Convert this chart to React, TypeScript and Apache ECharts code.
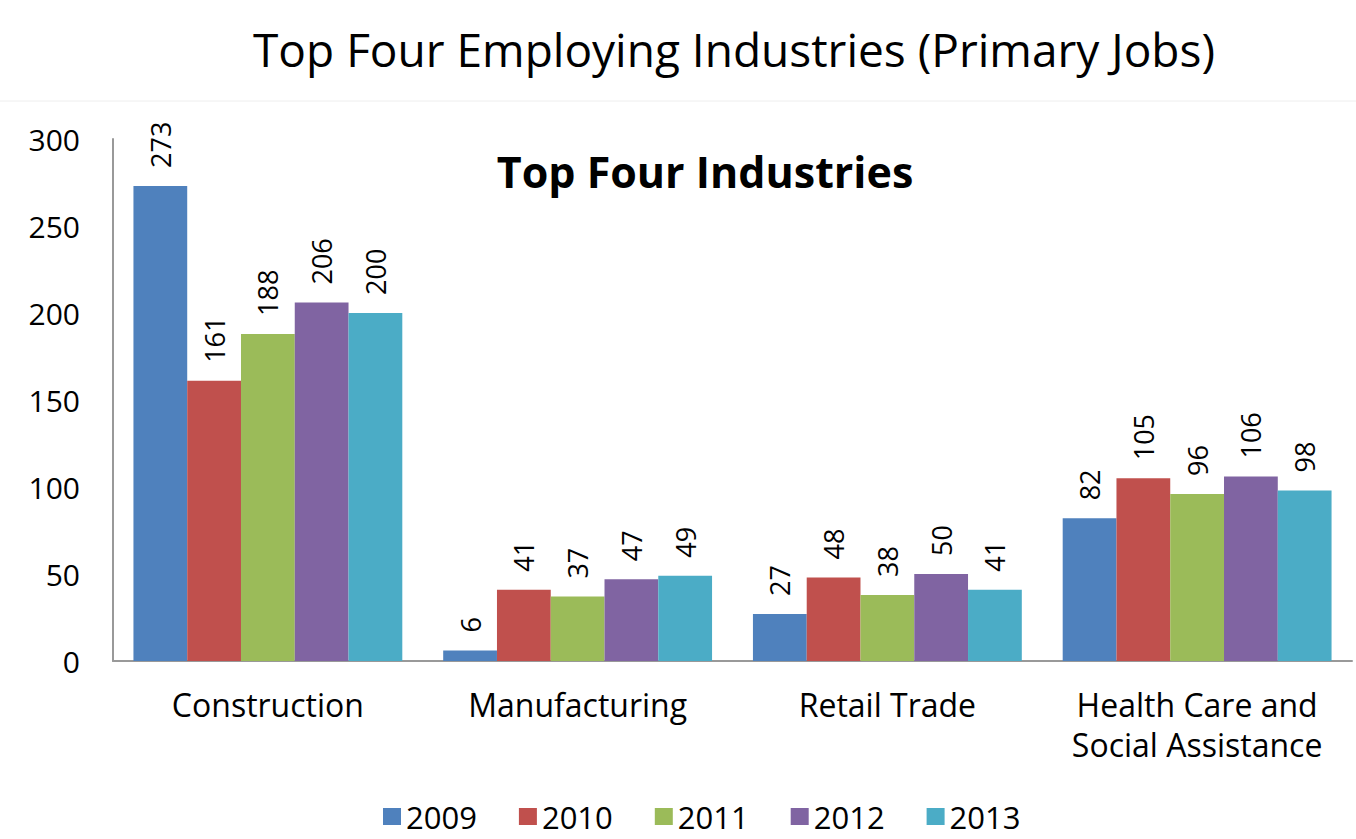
import React, { useEffect, useRef } from "react";
import * as echarts from "echarts";

const categories = ["Construction", "Manufacturing", "Retail Trade", "Health Care and\nSocial Assistance"];
const years = ["2009", "2010", "2011", "2012", "2013"];
const colors = ["#4F81BD", "#C0504D", "#9BBB59", "#8064A2", "#4BACC6"];
const v2009 = [273, 6, 27, 82];
const v2010 = [161, 41, 48, 105];
const v2011 = [188, 37, 38, 96];
const v2012 = [206, 47, 50, 106];
const v2013 = [200, 49, 41, 98];
const seriesValues = [v2009, v2010, v2011, v2012, v2013];
const yTicks = { min: 0, max: 300, interval: 50 };

const FONT = "'Open Sans', sans-serif";

export default function App() {
  const ref = useRef<HTMLDivElement>(null);
  useEffect(() => {
    document.body.style.margin = "0";
    const chart = echarts.init(ref.current!, null, { renderer: "svg" });
    chart.setOption({
      animation: false,
      backgroundColor: "#ffffff",
      title: [
        {
          text: "Top Four Employing Industries (Primary Jobs)",
          left: 729,
          top: 21,
          textAlign: "center",
          textStyle: { fontFamily: FONT, fontSize: 46, fontWeight: "normal", color: "#000" },
        },
        {
          text: "Top Four Industries",
          left: 700,
          top: 145,
          textAlign: "center",
          textStyle: { fontFamily: FONT, fontSize: 43, fontWeight: "bold", color: "#000" },
        },
      ],
      graphic: [
        { type: "line", shape: { x1: 0, y1: 101, x2: 1356, y2: 101 }, style: { stroke: "#eeeeee", lineWidth: 1 } },
      ],
      legend: {
        top: 801,
        left: 383,
        padding: 0,
        itemWidth: 18,
        itemHeight: 17,
        itemGap: 42,
        icon: "rect",
        textStyle: { fontFamily: FONT, fontSize: 31, lineHeight: 31, color: "#000" },
        data: years,
      },
      grid: { left: 113, right: 4, top: 139, bottom: 178, containLabel: false },
      xAxis: {
        type: "category",
        data: categories,
        axisLine: { lineStyle: { color: "#999", width: 2 } },
        axisTick: { show: false },
        axisLabel: { interval: 0, fontFamily: FONT, fontSize: 32, color: "#000", margin: 23, lineHeight: 40 },
      },
      yAxis: {
        type: "value",
        min: yTicks.min,
        max: yTicks.max,
        interval: yTicks.interval,
        splitLine: { show: false },
        axisLine: { show: true, lineStyle: { color: "#999", width: 2 } },
        axisTick: { show: false },
        axisLabel: { fontFamily: FONT, fontSize: 30, color: "#000", margin: 33 },
      },
      series: years.map((y, i) => ({
        name: y,
        type: "bar",
        data: seriesValues[i],
        barGap: "0%",
        barCategoryGap: "13.2%",
        itemStyle: { color: colors[i] },
        label: {
          show: true,
          position: "top",
          rotate: 90,
          align: "left",
          verticalAlign: "middle",
          distance: 18,
          fontFamily: FONT,
          fontSize: 27,
          color: "#000",
        },
      })),
    });
    return () => chart.dispose();
  }, []);
  return <div ref={ref} style={{ width: 1356, height: 839 }} />;
}
